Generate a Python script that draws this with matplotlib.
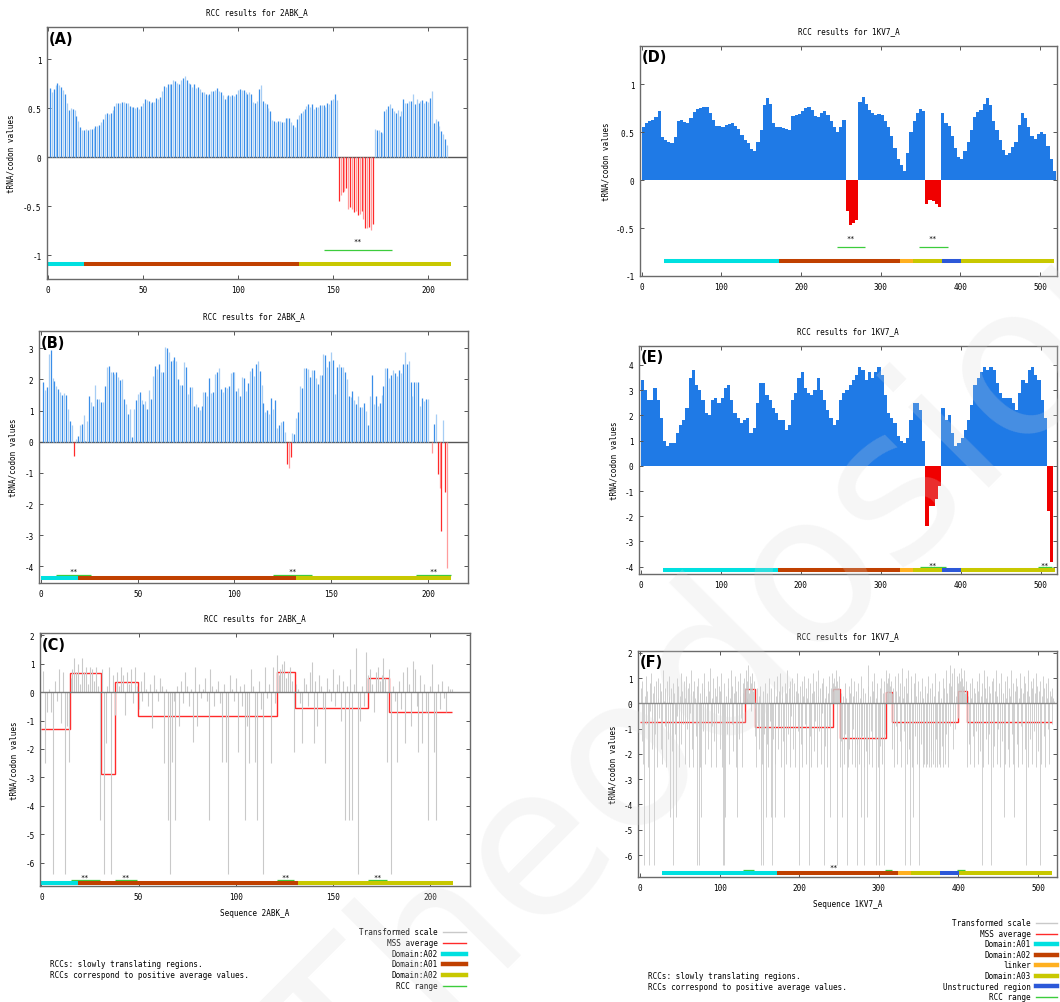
import numpy as np
import matplotlib
matplotlib.use("Agg")
from matplotlib import pyplot as plt
from matplotlib.lines import Line2D

W, H = 1060, 1003

# ---------------- 2ABK_A (paneles A, B, C) ----------------
# (A) valores RCC por residuo
rcc_a = [0.71, 0.67, 0.70, 0.74, 0.76, 0.74, 0.72, 0.69, 0.65, 0.56,
         0.48, 0.50, 0.49, 0.48, 0.42, 0.37, 0.31, 0.28, 0.28, 0.29,
         0.28, 0.29, 0.29, 0.30, 0.32, 0.32, 0.33, 0.36, 0.39, 0.44,
         0.45, 0.44, 0.45, 0.48, 0.52, 0.55, 0.56, 0.56, 0.57, 0.57,
         0.56, 0.56, 0.52, 0.51, 0.51, 0.50, 0.51, 0.49, 0.52, 0.55,
         0.60, 0.59, 0.58, 0.56, 0.57, 0.57, 0.61, 0.60, 0.62, 0.68,
         0.73, 0.72, 0.75, 0.75, 0.75, 0.79, 0.78, 0.76, 0.75, 0.79,
         0.81, 0.83, 0.79, 0.76, 0.75, 0.72, 0.75, 0.71, 0.72, 0.70,
         0.67, 0.67, 0.65, 0.64, 0.65, 0.68, 0.68, 0.69, 0.71, 0.68,
         0.67, 0.64, 0.60, 0.63, 0.64, 0.63, 0.64, 0.63, 0.65, 0.69,
         0.70, 0.69, 0.69, 0.67, 0.65, 0.67, 0.65, 0.57, 0.56, 0.58,
         0.70, 0.74, 0.58, 0.55, 0.54, 0.50, 0.47, 0.38, 0.37, 0.36,
         0.37, 0.37, 0.36, 0.36, 0.40, 0.40, 0.40, 0.36, 0.33, 0.31,
         0.39, 0.43, 0.45, 0.47, 0.49, 0.52, 0.54, 0.51, 0.54, 0.49,
         0.51, 0.51, 0.53, 0.53, 0.53, 0.51, 0.55, 0.54, 0.59, 0.60,
         0.65, 0.59, -0.44, -0.38, -0.35, -0.34, -0.31, -0.53, -0.51, -0.53,
         -0.56, -0.55, -0.59, -0.58, -0.55, -0.63, -0.72, -0.72, -0.71, -0.74,
         -0.68, 0.29, 0.28, 0.28, 0.26, 0.25, 0.47, 0.49, 0.52, 0.54,
         0.50, 0.47, 0.45, 0.48, 0.42, 0.47, 0.60, 0.56, 0.56, 0.58,
         0.58, 0.65, 0.54, 0.60, 0.56, 0.58, 0.59, 0.55, 0.58, 0.57,
         0.61, 0.68, 0.35, 0.39, 0.37, 0.32, 0.27, 0.24, 0.19, 0.13]

# (B) valores RCC por residuo
rcc_b = [1.90, 1.65, 1.75, 2.80, 2.95, 2.05, 1.95, 1.80, 1.70, 1.60,
         1.50, 1.55, 1.50, 1.05, 0.65, 0.55, -0.45, 0.08, 0.17, 0.55,
         0.57, 0.85, 0.03, 0.65, 1.45, 1.28, 1.15, 1.82, 1.38, 1.38,
         1.28, 1.28, 1.78, 2.38, 2.43, 2.25, 2.25, 2.18, 2.22, 2.08,
         1.98, 2.02, 1.38, 1.22, 0.88, 1.05, 0.15, 1.05, 1.35, 1.52,
         1.60, 1.35, 1.22, 1.32, 1.05, 1.65, 1.38, 2.12, 2.42, 2.32,
         2.48, 2.22, 2.22, 3.05, 3.02, 2.88, 2.58, 2.62, 2.72, 2.58,
         2.00, 1.82, 1.82, 2.55, 2.38, 1.52, 1.75, 1.75, 1.15, 1.20,
         1.12, 1.02, 1.15, 1.58, 1.58, 1.48, 2.05, 1.55, 1.58, 2.18,
         2.22, 2.35, 1.68, 1.58, 1.75, 1.72, 1.78, 2.20, 2.22, 2.22,
         1.62, 1.72, 1.48, 2.08, 2.05, 1.62, 1.88, 2.28, 2.35, 2.10,
         2.50, 2.58, 2.28, 1.82, 1.25, 0.95, 1.02, 0.88, 1.40, 1.05,
         1.35, 0.45, 0.55, 0.62, 0.65, 0.30, -0.70, -0.85, -0.50, 0.28,
         0.25, 0.75, 0.95, 1.80, 1.72, 2.35, 2.35, 2.32, 2.08, 2.30,
         2.30, 2.05, 1.85, 2.15, 2.15, 2.82, 2.78, 2.40, 2.58, 2.88,
         2.62, 1.52, 2.40, 2.50, 2.38, 2.38, 2.22, 2.00, 1.48, 1.42,
         1.62, 1.35, 1.22, 1.45, 1.10, 1.10, 1.25, 0.97, 0.55, 1.45,
         2.15, 1.20, 1.45, 1.15, 1.25, 1.50, 1.80, 2.35, 2.35, 2.05,
         2.15, 2.30, 2.20, 2.12, 2.30, 2.20, 2.50, 2.88, 2.48, 2.58,
         1.92, 1.48, 1.90, 1.92, 1.92, 1.15, 1.40, 1.30, 1.38, 1.38,
         0.00, -0.35, 0.58, 0.90, -1.05, -1.50, -2.85, 0.70, -1.62, -4.05]

# (C) escala transformada por residuo
escala_c = [0.75, -2.5, -0.7, 0.1, -0.7, -6.4, 0.4, -0.3, 0.8, -1.1,
            0.7, -6.4, -1.2, -2.45, 0.5, 0.8, 1.2, 0.7, 1.0, 0.3,
            1.2, 0.7, 0.9, 0.3, 0.9, 0.8, 0.4, 0.9, 0.2, -4.5,
            0.8, -6.4, -1.8, 0.2, 0.9, -6.4, 0.6, -0.8, 0.7, 0.2,
            0.9, 0.6, -0.8, 0.7, 0.3, 0.8, -0.4, 0.9, 0.2, -0.6,
            0.4, -0.3, 0.7, 0.1, -0.5, 0.3, -1.25, 0.6, 0.1, -0.3,
            0.5, 0.2, -2.5, 0.1, -4.5, -6.4, -2.45, -0.3, -4.5, 0.2,
            -1.2, 0.4, -0.4, 0.7, 0.2, -0.5, 0.1, -1.75, 0.9, -1.2,
            0.3, -0.2, 0.1, 0.5, -0.3, -4.5, 0.8, 0.2, -0.5, 0.1,
            0.4, -0.4, -2.45, 0.3, -2.45, -6.4, 0.6, 0.1, -0.3, 0.5,
            -2.1, 0.2, -0.5, 0.3, -4.5, -1.2, -2.5, 0.8, 0.2, -2.45,
            -4.5, 0.4, -0.6, -6.4, 0.9, -0.2, 0.3, -2.5, 0.9, -0.4,
            1.3, 0.6, 0.8, 1.0, 1.1, 0.5, 0.7, 0.9, 0.4, -2.1,
            0.3, 0.1, -0.4, -1.8, 0.5, 0.3, -0.5, 0.7, 1.05, -1.8,
            0.4, -1.2, 0.6, 0.2, -0.6, -2.5, 0.5, 0.1, -0.3, 0.8,
            -0.5, 0.3, 0.6, -1.0, 0.4, -4.5, 0.2, -4.5, 0.8, -4.5,
            0.3, 1.55, -6.4, -1.0, 0.2, -0.5, 1.4, 0.6, 0.8, 0.3,
            -0.7, 0.7, 0.9, 0.4, 0.6, 1.2, 0.5, -2.45, 0.8, -6.4,
            0.2, -0.3, -2.45, 0.4, -0.6, 0.7, -1.8, 0.9, 0.3, -1.2,
            1.1, 0.8, -0.5, -2.1, 0.6, -1.8, 0.3, -0.7, -4.5, 0.2,
            1.0, -2.1, -4.5, 0.3, -0.6, 0.4, -0.2, -0.7, 0.2, 0.1, 0.1]

# (C) media MSS por tramos
mss_c_bordes = [0, 14.5, 30.5, 38, 49.5, 121, 130.5, 168, 179, 211]
mss_c_valores = [-1.29, 0.67, -2.87, 0.35, -0.85, 0.71, -0.56, 0.49, -0.71]

dom_2abk_ini = [0, 19, 132]
dom_2abk_fin = [19, 132, 212]
dom_2abk_nombres = ['Domain:A02', 'Domain:A01', 'Domain:A02']

rcc_rango_a = [(145, 181)]
rcc_rango_b = [(8, 26), (120, 140), (194, 212)]
rcc_rango_c = [(15, 30), (38, 49), (121, 130), (168, 178)]

# ---------------- 1KV7_A (paneles D, E, F) ----------------
# (D) y (E): valores cada 4 residuos (centros 2, 6, 10, ...)
rcc_d = [0.55, 0.60, 0.62, 0.63, 0.66, 0.72, 0.45, 0.42, 0.40, 0.39,
         0.45, 0.62, 0.63, 0.61, 0.60, 0.65, 0.71, 0.74, 0.75, 0.76,
         0.76, 0.70, 0.63, 0.57, 0.57, 0.56, 0.58, 0.59, 0.60, 0.57,
         0.53, 0.47, 0.42, 0.39, 0.33, 0.30, 0.40, 0.52, 0.78, 0.86,
         0.80, 0.60, 0.56, 0.55, 0.54, 0.53, 0.52, 0.67, 0.68, 0.69,
         0.72, 0.75, 0.76, 0.73, 0.67, 0.66, 0.70, 0.72, 0.68, 0.62,
         0.55, 0.50, 0.55, 0.63, -0.32, -0.47, -0.45, -0.42, 0.82, 0.87,
         0.80, 0.73, 0.70, 0.68, 0.69, 0.68, 0.62, 0.55, 0.46, 0.34,
         0.22, 0.16, 0.10, 0.28, 0.50, 0.62, 0.70, 0.74, 0.72, -0.25,
         -0.21, -0.22, -0.25, -0.28, 0.70, 0.60, 0.57, 0.46, 0.34, 0.24,
         0.22, 0.30, 0.40, 0.52, 0.66, 0.71, 0.73, 0.80, 0.86, 0.78,
         0.62, 0.52, 0.42, 0.32, 0.26, 0.28, 0.35, 0.40, 0.58, 0.70,
         0.65, 0.56, 0.46, 0.43, 0.48, 0.50, 0.48, 0.36, 0.22, 0.10]

rcc_e = [3.4, 3.0, 2.6, 2.6, 3.1, 2.6, 1.9, 1.0, 0.8, 0.9,
         0.9, 1.3, 1.6, 1.8, 2.3, 3.5, 3.8, 3.2, 3.0, 2.6,
         2.1, 2.0, 2.6, 2.7, 2.5, 2.7, 3.1, 3.2, 2.6, 2.1,
         1.9, 1.7, 1.8, 1.9, 1.3, 1.5, 2.5, 3.3, 3.3, 2.8,
         2.6, 2.3, 2.1, 1.8, 1.8, 1.4, 1.6, 2.6, 2.9, 3.5,
         3.7, 3.1, 2.9, 2.8, 3.0, 3.5, 3.0, 2.6, 2.2, 1.9,
         1.6, 1.8, 2.6, 2.9, 3.0, 3.2, 3.4, 3.6, 3.9, 3.8,
         3.4, 3.7, 3.5, 3.7, 3.9, 3.6, 2.8, 2.1, 1.9, 1.7,
         1.2, 1.0, 0.9, 1.1, 1.8, 2.5, 2.5, 2.2, 1.0, -2.4,
         -1.6, -1.6, -1.3, -0.8, 2.3, 1.8, 2.0, 1.3, 0.8, 0.9,
         1.1, 1.4, 1.8, 2.4, 3.2, 3.5, 3.7, 3.9, 3.8, 3.9,
         3.8, 3.3, 2.9, 2.7, 2.7, 2.7, 2.5, 2.2, 2.9, 3.4,
         3.3, 3.8, 3.9, 3.6, 3.4, 2.6, 1.9, -1.8, -3.8, 0.0]

# (F) escala transformada por residuo
escala_f = [0.6, -1.5, 0.9, -2.4, -6.4, 0.3, 1.1, -0.8, 0.5, -2.5, -6.4, 0.8, -0.3, 1.2, -1.8, 0.4, -6.4, 0.7, -1.2, 0.9,
            -2.5, 0.2, 1.0, -0.6, 0.8, -1.8, 0.5, -2.4, 1.3, 0.1, -0.9, 0.6, -2.5, 0.9, -1.4, 0.3, 1.1, -4.5, 0.6, -1.9,
            0.8, -6.4, 0.4, -1.2, -4.5, 1.0, -0.5, 0.7, -2.5, 0.3, 1.2, -1.6, 0.5, -0.8, 0.9, -2.4, 0.2, 1.1, -1.0, 0.6,
            -2.5, 0.8, -0.4, 1.3, -1.8, 0.5, -2.5, 0.9, 0.2, -1.3, 0.7, -6.4, 1.0, -6.4, 0.4, -2.5, -4.5, 0.8, -1.1, 0.6,
            1.2, -2.4, 0.3, -0.7, 0.9, -1.8, 0.5, 1.4, -2.5, 0.2, -0.9, 1.0, -1.5, 0.6, 0.3, -2.5, 1.1, -0.4, 0.7, -1.8,
            0.5, 1.2, -2.5, -6.4, -6.4, 0.8, -4.5, 0.3, -1.2, 1.0, 0.6, -2.4, 0.2, 1.3, -0.8, 0.7, -1.9, 0.4, 1.1, -2.5,
            0.5, -4.5, 0.9, -1.4, 0.3, 1.2, -0.6, -2.5, 0.8, 0.4, 1.0, 0.6, 1.3, 0.2, 0.9, 1.5, 0.4, 1.1, -0.3, 0.8,
            1.2, 0.5, 0.9, -0.2, -1.3, -2.5, 0.6, -0.9, 0.3, -1.8, 0.7, -6.4, -2.4, 0.5, -6.4, -1.2, 0.8, -4.5, -1.6, 0.4,
            -2.5, 1.0, -0.7, -4.5, 0.6, -6.4, -1.4, 0.9, -2.4, -4.5, 0.3, 1.1, -1.8, 0.5, -0.9, 1.2, -2.5, 0.2, 0.7, -1.5,
            -4.5, 0.8, -2.4, 0.4, 1.3, -1.2, 0.6, -2.5, 0.9, -0.5, 1.0, -1.8, 0.3, 0.8, -2.5, 0.5, 1.2, -1.1, 0.4, -6.4,
            0.7, -1.6, 0.9, -2.5, 0.3, 1.1, -0.8, 0.6, -2.4, 0.2, 1.0, -6.4, -1.3, 0.8, -2.5, 0.4, 1.2, -1.9, 0.5, -0.7,
            0.9, -2.5, 0.3, 1.3, -1.1, 0.6, -2.4, 0.8, -0.4, 1.0, -6.4, 0.2, -1.7, 0.7, -2.5, 0.4, 1.1, -0.9, -4.5, 0.6,
            1.2, 0.8, 0.5, 1.0, 0.7, 1.3, -6.4, 0.9, 0.6, 1.1, -2.5, 0.4, -1.5, -4.5, 0.3, -2.4, 0.8, -1.2, 0.2, -6.4,
            -2.5, 0.7, -1.8, 0.4, 1.0, -2.4, 0.3, -1.0, 0.9, -2.5, 0.5, -6.4, -1.6, 0.8, -2.4, 0.2, -4.5, 1.1, -1.3, 0.6,
            -2.5, -6.4, 0.4, -1.9, -4.5, 0.7, 1.5, -2.4, 0.3, -1.1, 0.9, -2.5, 0.5, 1.2, -1.4, 0.2, -6.4, 0.8, -2.5, -6.4,
            0.6, -1.7, 1.0, -2.4, 0.4, -6.4, 0.9, -1.2, 1.3, 0.8, 1.0, 0.5, 1.2, 0.7, 0.9, 0.4, -1.8, 0.6, -2.5, 1.1,
            -0.9, 0.5, -2.4, 1.2, 0.3, -1.5, 0.8, -2.5, 1.4, 0.2, -1.1, 0.7, -6.4, 1.0, -2.4, 0.4, 1.3, -1.8, -6.4, 0.6,
            1.1, -2.5, -4.5, 0.8, -1.3, 1.2, 0.3, -2.4, 0.9, -6.4, -2.5, 0.5, -1.6, 1.0, -2.5, 0.2, -2.4, 0.7, -2.5, 0.4,
            -2.4, 1.1, -2.5, 0.6, -1.9, -2.5, 0.8, -2.4, 0.3, -2.5, 1.2, -1.4, -2.5, 0.5, -2.4, 0.9, -2.5, 0.2, -1.7, 1.0,
            -2.5, 0.6, -2.4, 1.3, -1.2, 0.4, -2.5, 0.8, 1.5, -0.9, 0.7, 1.2, -1.8, 0.5, 1.4, -1.0, 0.3, 1.1, -0.6, 0.8,
            1.2, 0.9, 1.4, 0.6, 1.0, 0.7, 1.3, 0.4, 0.9, 0.5, -2.5, 0.3, -1.6, 0.8, -2.4, 0.2, 1.0, -1.3, 0.6, -2.5,
            0.4, -1.1, 0.9, -2.4, 0.5, 1.2, -1.9, 0.3, -6.4, 0.8, -2.5, 1.3, 0.6, -1.4, 0.2, 1.1, -2.4, 0.7, -1.2, 0.4,
            -6.4, 0.9, -2.5, 1.0, -1.7, 0.5, 1.3, -2.4, 0.3, -1.0, 0.8, -2.5, 0.6, 1.2, -1.5, 0.4, -4.5, 0.9, -2.4, 0.2,
            1.1, -1.8, 0.6, -2.5, 0.3, 1.3, -1.2, 0.8, -2.4, -4.5, 0.5, 1.0, -1.6, 0.7, -2.5, 0.2, 1.2, -0.9, 0.6, -2.4,
            0.4, 1.1, -1.8, 0.8, -6.4, 0.5, -2.5, 1.3, 0.3, -1.4, 0.9, -2.4, 0.6, 1.0, -1.1, 0.4, -2.5, 1.2, 0.7, -1.9,
            0.5, -6.4, 0.9, -2.4, 0.3, 1.1, -1.3, 0.6, -2.5, 0.8, 0.2, -1.0, 1.0, -2.4, 0.5, 0.3, -0.8, 0.6, 0.2, 0.1]

mss_f_bordes = [0, 132, 144, 242, 251, 309, 316, 400, 411, 517]
mss_f_valores = [-0.72, 0.55, -0.95, 0.55, -1.36, 0.46, -0.75, 0.50, -0.75]

dom_1kv7_ini = [28, 172, 324, 341, 377, 401]
dom_1kv7_fin = [172, 324, 341, 377, 401, 518]
dom_1kv7_tipo = ['Domain:A01', 'Domain:A02', 'linker', 'Domain:A03', 'Unstructured region', 'Domain:A03']

rcc_rango_d = [(245, 280), (348, 384)]
rcc_rango_e = [(349, 382), (497, 514)]
rcc_rango_f = [(130, 143), (308, 316), (398, 408)]

# colores
AZUL = ['#3a8ee8', '#a6cdf4']
ROJO = ['#ff2a2a', '#ff9c9c']
AZUL_D = '#1f7ae6'
ROJO_D = '#f00000'
GRIS = '#c9c9c9'
VERDE = '#3ccc3c'
col_dom = {'Domain:A01': '#00e0e0', 'Domain:A02': '#c04000', 'Domain:A03': '#c8c800',
           'linker': '#ffb020', 'Unstructured region': '#2c58d8'}
col_dom_2abk = ['#00e0e0', '#c04000', '#c8c800']

plt.rcParams['font.family'] = ['DejaVu Sans Mono']
plt.rcParams['font.size'] = 5.5
plt.rcParams['axes.unicode_minus'] = False

fig = plt.figure(figsize=(W / 100, H / 100), dpi=100)


def caja(izq, arr, der, aba):
    return [izq / W, 1 - aba / H, (der - izq) / W, (aba - arr) / H]


def px(x, y):
    return x / W, 1 - y / H


def panel(rect, xlim, ylim, xticks, yticks, etiqueta, titulo, ylab_x):
    ax = fig.add_axes(caja(*rect))
    ax.set_xlim(*xlim)
    ax.set_ylim(*ylim)
    ax.set_xticks(xticks)
    ax.set_yticks(yticks)
    ax.set_yticklabels([('%g' % t) for t in yticks])
    ax.tick_params(direction='in', top=True, right=True, length=3, width=0.7,
                   color='#555555', labelsize=5.5, pad=4)
    for s in ax.spines.values():
        s.set_color('#6a6a6a')
        s.set_linewidth(1.0)
    ax.text(0.004, 0.985, etiqueta, transform=ax.transAxes, ha='left', va='top',
            fontsize=10.5, fontweight='bold', family='DejaVu Sans')
    izq, arr, der, aba = rect
    fig.text((izq + der) / 2 / W, 1 - (arr - 15) / H, titulo, ha='center', va='center', fontsize=5.5)
    ax.set_ylabel('tRNA/codon values', fontsize=5.5)
    ax.yaxis.set_label_coords(ylab_x, 0.5)
    return ax


def impulsos(ax, valores):
    v = np.array(valores)
    x = np.arange(1, len(v) + 1)
    cols = []
    for i, val in enumerate(v):
        if val >= 0:
            cols.append(AZUL[i % 2])
        else:
            cols.append(ROJO[i % 2])
    ax.vlines(x, 0, v, colors=cols, lw=0.9)


def rangos(ax, lista, y_lin, y_txt):
    for a, b in lista:
        ax.hlines(y_lin, a, b, colors=VERDE, lw=0.9)
        ax.text((a + b) / 2, y_txt, '**', ha='center', va='center', fontsize=5)


def dominios(ax, y, ini, fin, colores):
    for a, b, c in zip(ini, fin, colores):
        ax.hlines(y, a, b, colors=c, lw=2.9)


# ---- (A) ----
ax = panel((47, 28, 467, 280), (-0.5, 220.5), (-1.24, 1.33), [0, 50, 100, 150, 200],
           [-1, -0.5, 0, 0.5, 1], '(A)', 'RCC results for 2ABK_A', -0.074)
ax.axhline(0, color='#555555', lw=1.0, zorder=1)
impulsos(ax, rcc_a)
rangos(ax, rcc_rango_a, -0.94, -0.85)
dominios(ax, -1.09, dom_2abk_ini, dom_2abk_fin, col_dom_2abk)

# ---- (B) ----
ax = panel((39, 332, 468, 584), (-1.0, 220.7), (-4.53, 3.55), [0, 50, 100, 150, 200],
           [-4, -3, -2, -1, 0, 1, 2, 3], '(B)', 'RCC results for 2ABK_A', -0.051)
ax.axhline(0, color='#555555', lw=1.0, zorder=1)
impulsos(ax, rcc_b)
rangos(ax, rcc_rango_b, -4.27, -4.15)
dominios(ax, -4.38, dom_2abk_ini, dom_2abk_fin, col_dom_2abk)

# ---- (C) ----
ax = panel((40, 634, 470, 887), (-0.7, 220.5), (-6.82, 2.08), [0, 50, 100, 150, 200],
           [-6, -5, -4, -3, -2, -1, 0, 1, 2], '(C)', 'RCC results for 2ABK_A', -0.051)
xc = np.arange(1, len(escala_c) + 1)
ax.vlines(xc, 0, escala_c, colors=GRIS, lw=0.8)
ax.axhline(0, color='#7a7a7a', lw=1.0)
ax.stairs(mss_c_valores, mss_c_bordes, baseline=None, color='#ff2a2a', lw=1.0)
rangos(ax, rcc_rango_c, -6.6, -6.5)
dominios(ax, -6.73, dom_2abk_ini, dom_2abk_fin, col_dom_2abk)
fig.text(*px(255, 913), 'Sequence 2ABK_A', ha='center', va='center', fontsize=5.5)

# ---- (D) ----
col_1kv7 = [col_dom[t] for t in dom_1kv7_tipo]
ax = panel((640, 47, 1057, 277), (-2.1, 521.4), (-1.0, 1.4), [0, 100, 200, 300, 400, 500],
           [-1, -0.5, 0, 0.5, 1], '(D)', 'RCC results for 1KV7_A', -0.07)
xd = 2 + 4 * np.arange(len(rcc_d))
ax.bar(xd, rcc_d, width=4, color=[AZUL_D if v >= 0 else ROJO_D for v in rcc_d], linewidth=0)
rangos(ax, rcc_rango_d, -0.70, -0.60)
dominios(ax, -0.84, dom_1kv7_ini, dom_1kv7_fin, col_1kv7)

# ---- (E) ----
ax = panel((639, 347, 1057, 575), (-2.1, 520.4), (-4.29, 4.75), [0, 100, 200, 300, 400, 500],
           [-4, -3, -2, -1, 0, 1, 2, 3, 4], '(E)', 'RCC results for 1KV7_A', -0.05)
xe = 2 + 4 * np.arange(len(rcc_e))
ax.bar(xe, rcc_e, width=4, color=[AZUL_D if v >= 0 else ROJO_D for v in rcc_e], linewidth=0)
rangos(ax, rcc_rango_e, -4.03, -3.92)
dominios(ax, -4.13, dom_1kv7_ini, dom_1kv7_fin, col_1kv7)

# ---- (F) ----
ax = panel((638, 652, 1057, 878), (-2.5, 523.8), (-6.87, 2.07), [0, 100, 200, 300, 400, 500],
           [-6, -5, -4, -3, -2, -1, 0, 1, 2], '(F)', 'RCC results for 1KV7_A', -0.048)
xf = np.arange(1, len(escala_f) + 1)
ax.vlines(xf, 0, escala_f, colors=GRIS, lw=0.6)
ax.axhline(0, color='#8a8a8a', lw=1.0)
ax.stairs(mss_f_valores, mss_f_bordes, baseline=None, color='#ff2a2a', lw=1.0)
for a, b in rcc_rango_f:
    ax.hlines(-6.6, a, b, colors=VERDE, lw=0.9)
ax.text(243, -6.48, '**', ha='center', va='center', fontsize=5)
dominios(ax, -6.7, dom_1kv7_ini, dom_1kv7_fin, col_1kv7)
fig.text(*px(848, 905), 'Sequence 1KV7_A', ha='center', va='center', fontsize=5.5)


# ---- leyendas y notas ----
def leyenda(entradas, x_txt, x0, x1, ys):
    for (nombre, color, grosor), y in zip(entradas, ys):
        fig.text(*px(x_txt, y), nombre, ha='right', va='center', fontsize=5.5)
        fig.add_artist(Line2D([x0 / W, x1 / W], [1 - y / H, 1 - y / H], color=color, lw=grosor))


ley_c = [('Transformed scale', GRIS, 1.0), ('MSS average', '#ff2a2a', 1.0)]
for nombre, color in zip(dom_2abk_nombres, col_dom_2abk):
    ley_c.append((nombre, color, 3.2))
ley_c.append(('RCC range', VERDE, 1.0))
leyenda(ley_c, 438, 443, 466, [933, 943.5, 954.5, 965, 975.7, 986.7])

ley_f = [('Transformed scale', GRIS, 1.0), ('MSS average', '#ff2a2a', 1.0)]
for nombre in ['Domain:A01', 'Domain:A02', 'linker', 'Domain:A03', 'Unstructured region']:
    ley_f.append((nombre, col_dom[nombre], 3.2))
ley_f.append(('RCC range', VERDE, 1.0))
leyenda(ley_f, 1031, 1036, 1057, [924, 934.5, 945, 955.7, 966, 976.7, 987.3, 997.7])

fig.text(*px(50, 965), 'RCCs: slowly translating regions.', ha='left', va='center', fontsize=5.5)
fig.text(*px(50, 976), 'RCCs correspond to positive average values.', ha='left', va='center', fontsize=5.5)
fig.text(*px(648, 977), 'RCCs: slowly translating regions.', ha='left', va='center', fontsize=5.5)
fig.text(*px(648, 988), 'RCCs correspond to positive average values.', ha='left', va='center', fontsize=5.5)

# marca de agua tenue en diagonal
fig.text(*px(735, 660), 'Theodosiou', rotation=45, rotation_mode='anchor', ha='center', va='center',
         fontsize=150, family='DejaVu Sans', color='#d8d8d8', alpha=0.22, zorder=10)

fig.savefig('out.png', dpi=100)
